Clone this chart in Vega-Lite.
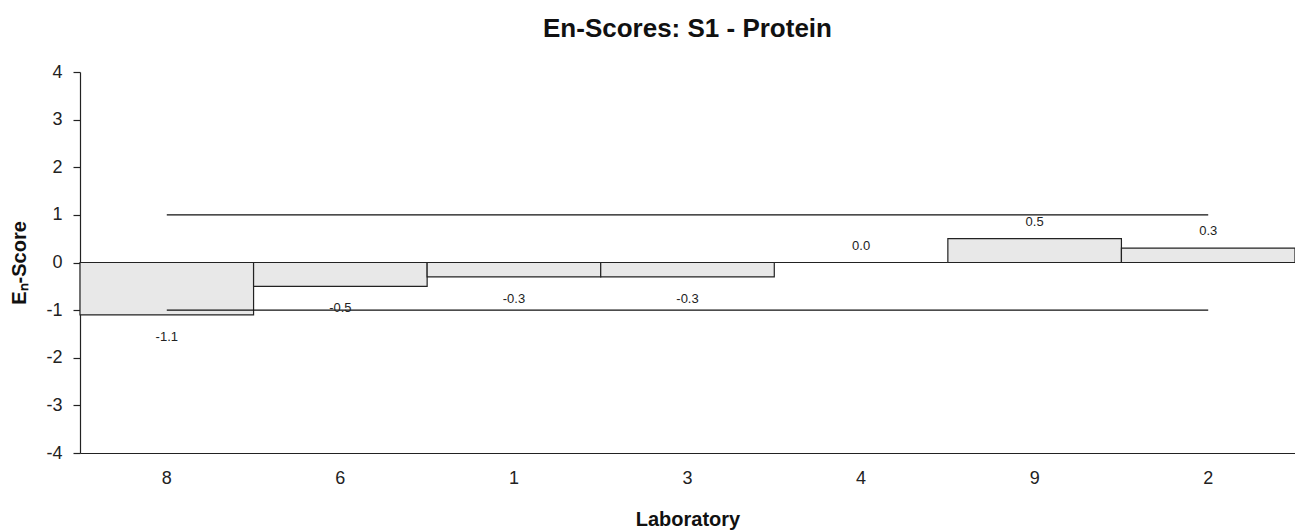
{
  "$schema": "https://vega.github.io/schema/vega-lite/v6.json",
  "width": 1215,
  "height": 381,
  "autosize": {"type": "none"},
  "padding": {"left": 80, "top": 72, "right": 0, "bottom": 78},
  "background": "white",
  "config": {
    "font": "Liberation Sans",
    "locale": {
      "number": {"decimal": ".", "thousands": ",", "grouping": [3], "currency": ["$", ""], "minus": "-"}
    },
    "view": {"stroke": null},
    "axis": {"grid": false, "domainColor": "#222", "tickColor": "#222", "labelColor": "#222", "titleColor": "#111"}
  },
  "title": {
    "text": "En-Scores: S1 - Protein",
    "fontSize": 26,
    "fontWeight": "bold",
    "color": "#111",
    "anchor": "middle",
    "offset": 21
  },
  "datasets": {
    "scores": [
      {"lab": "8", "score": -1.1},
      {"lab": "6", "score": -0.5},
      {"lab": "1", "score": -0.3},
      {"lab": "3", "score": -0.3},
      {"lab": "4", "score": 0.0},
      {"lab": "9", "score": 0.5},
      {"lab": "2", "score": 0.3}
    ],
    "limits": [
      {"from": "8", "to": "2", "limit": 1},
      {"from": "8", "to": "2", "limit": -1}
    ]
  },
  "layer": [
    {
      "data": {"name": "scores"},
      "mark": {"type": "bar", "fill": "#e8e8e8", "stroke": "#222", "strokeWidth": 1.2},
      "encoding": {
        "x": {
          "field": "lab",
          "type": "nominal",
          "sort": ["8", "6", "1", "3", "4", "9", "2"],
          "scale": {"domain": ["8", "6", "1", "3", "4", "9", "2"], "paddingInner": 0, "paddingOuter": 0},
          "axis": {
            "title": "Laboratory",
            "titleFontSize": 20,
            "titleFontWeight": "bold",
            "titlePadding": 22,
            "labelFontSize": 18,
            "labelAngle": 0,
            "labelPadding": 16,
            "ticks": false,
            "domainWidth": 1.2
          }
        },
        "y": {
          "field": "score",
          "type": "quantitative",
          "scale": {"domain": [-4, 4], "nice": false},
          "axis": {
            "title": "Eₙ-Score",
            "titleFontSize": 20,
            "titleFontWeight": "bold",
            "titlePadding": 16,
            "labelFontSize": 18,
            "tickSize": 7,
            "tickWidth": 1.2,
            "domainWidth": 1.2,
            "labelPadding": 11,
            "values": [-4, -3, -2, -1, 0, 1, 2, 3, 4]
          }
        }
      }
    },
    {
      "mark": {"type": "rule", "color": "#222", "strokeWidth": 1.2},
      "encoding": {"y": {"datum": 4}}
    },
    {
      "data": {"name": "limits"},
      "mark": {"type": "rule", "color": "#111", "strokeWidth": 1.2},
      "encoding": {
        "x": {"field": "from", "type": "nominal", "sort": ["8", "6", "1", "3", "4", "9", "2"]},
        "x2": {"field": "to"},
        "y": {"field": "limit", "type": "quantitative"}
      }
    },
    {
      "data": {"name": "scores"},
      "transform": [{"filter": "datum.score < 0"}],
      "mark": {"type": "text", "fontSize": 13, "color": "#222", "baseline": "middle", "dy": 22},
      "encoding": {
        "x": {"field": "lab", "type": "nominal", "sort": ["8", "6", "1", "3", "4", "9", "2"]},
        "y": {"field": "score", "type": "quantitative"},
        "text": {"field": "score", "type": "quantitative", "format": ".1f"}
      }
    },
    {
      "data": {"name": "scores"},
      "transform": [{"filter": "datum.score >= 0"}],
      "mark": {"type": "text", "fontSize": 13, "color": "#222", "baseline": "middle", "dy": -17},
      "encoding": {
        "x": {"field": "lab", "type": "nominal", "sort": ["8", "6", "1", "3", "4", "9", "2"]},
        "y": {"field": "score", "type": "quantitative"},
        "text": {"field": "score", "type": "quantitative", "format": ".1f"}
      }
    }
  ]
}
